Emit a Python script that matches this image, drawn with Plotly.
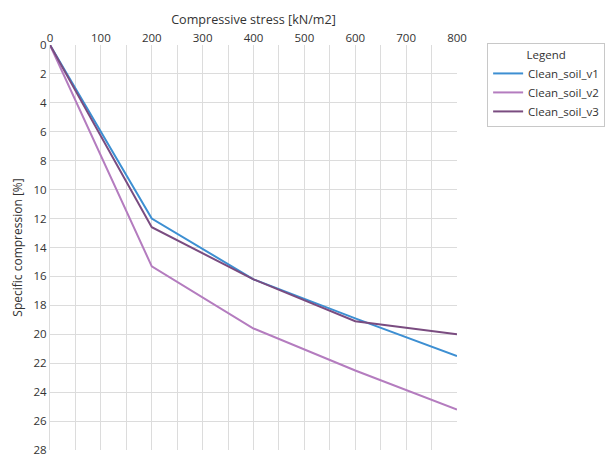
import plotly.graph_objects as go

stress = [0, 200, 400, 600, 800]
v1 = [0, 12.0, 16.2, 18.9, 21.5]
v2 = [0, 15.3, 19.6, 22.5, 25.2]
v3 = [0, 12.6, 16.2, 19.1, 20.0]
names = ["Clean_soil_v1", "Clean_soil_v2", "Clean_soil_v3"]
colors = ["#3d8fd2", "#b47cbf", "#7a4c80"]

fig = go.Figure()
for name, vals, col in zip(names, [v1, v2, v3], colors):
    fig.add_trace(go.Scatter(x=stress, y=vals, mode="lines", name=name,
                             line=dict(color=col, width=2)))

font = dict(family="Open Sans, Noto Sans, sans-serif", size=11, color="#333333")
fig.update_layout(
    width=614, height=457,
    margin=dict(l=42, r=165, t=37, b=15, autoexpand=False),
    paper_bgcolor="white", plot_bgcolor="white",
    font=font,
    xaxis=dict(side="top", range=[0, 800], dtick=100, tick0=0, automargin=False,
               showgrid=True, gridcolor="#dcdcdc", gridwidth=1,
               minor=dict(dtick=50, showgrid=True, gridcolor="#dcdcdc"),
               zeroline=False, showline=False, ticks="",
               title=dict(text="Compressive stress [kN/m2]", standoff=2, font=dict(size=12.6)),
               tickfont=dict(size=11.5)),
    yaxis=dict(range=[28, 0], dtick=2, tick0=0, automargin=False,
               showgrid=True, gridcolor="#dcdcdc", gridwidth=1,
               zeroline=False, showline=True, linecolor="#dcdcdc", ticks="",
               title=dict(text="Specific compression [%]", standoff=8, font=dict(size=12)),
               tickfont=dict(size=11.5)),
    legend=dict(x=1.074, y=1.005, xanchor="left", yanchor="top",
                bordercolor="#c8c8c8", borderwidth=1, bgcolor="white",
                title=dict(text="Legend", side="top center", font=dict(size=11.5)),
                font=dict(size=11.5)),
)
fig.write_html("out.html")
